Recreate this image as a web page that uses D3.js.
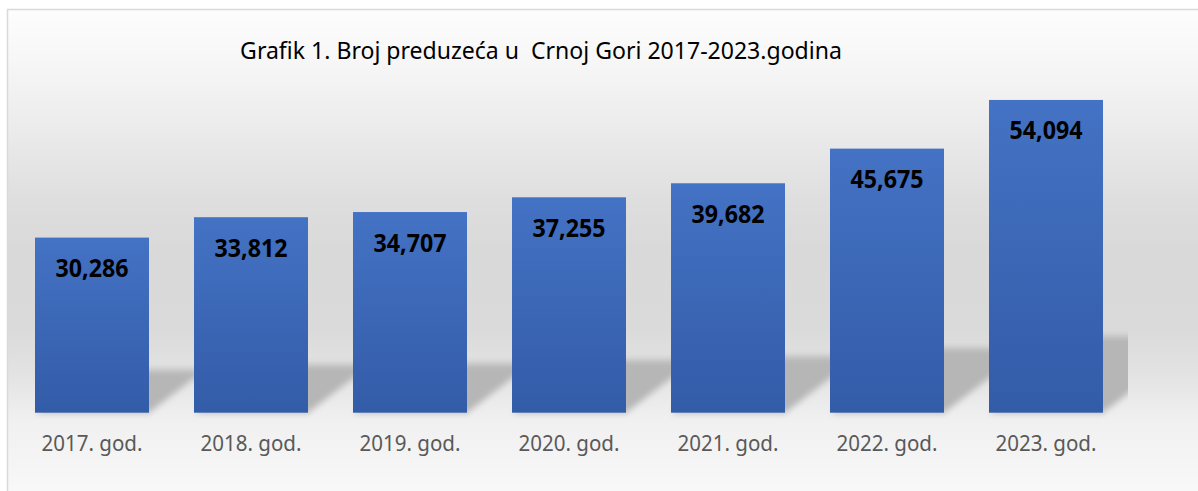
<!DOCTYPE html>
<html>
<head>
<meta charset="utf-8">
<script src="https://cdn.jsdelivr.net/npm/d3@7"></script>
<style>
  body { margin: 0; background: #fff; }
  svg { display: block; }
</style>
</head>
<body>
<svg id="chart"></svg>
<script>
const title = 'Grafik 1. Broj preduzeća u  Crnoj Gori 2017-2023.godina';
const years = ['2017. god.', '2018. god.', '2019. god.', '2020. god.', '2021. god.', '2022. god.', '2023. god.'];
const companies = [30286, 33812, 34707, 37255, 39682, 45675, 54094];
const yMax = 60000;

const W = 1198, H = 491;
const plot = {left: 12.5, right: 1125.5, top: 65.8, bottom: 412.7};

const svg = d3.select('#chart')
.attr('width', W)
.attr('height', H);

const defs = svg.append('defs');

// chart area background: white -> gray -> light
const bg = defs.append('linearGradient')
.attr('id', 'bg')
.attr('x1', 0).attr('y1', 0).attr('x2', 0).attr('y2', 1);
[[0, '#fdfdfd'], [0.1, '#f7f7f7'], [0.25, '#ebebeb'], [0.4, '#dedede'], [0.5, '#d9d9d9'],
 [0.66, '#dadada'], [0.76, '#e3e3e3'], [0.85, '#f0f0f0'], [1, '#f8f8f8']]
.forEach(s => bg.append('stop').attr('offset', s[0]).attr('stop-color', s[1]));

const barGrad = defs.append('linearGradient')
.attr('id', 'barGrad')
.attr('x1', 0).attr('y1', 0).attr('x2', 0).attr('y2', 1);
barGrad.append('stop').attr('offset', 0).attr('stop-color', '#4472c4');
barGrad.append('stop').attr('offset', 1).attr('stop-color', '#335ca8');

defs.append('filter')
.attr('id', 'blur')
.attr('x', '-20%').attr('y', '-30%').attr('width', '140%').attr('height', '160%')
.append('feGaussianBlur')
.attr('stdDeviation', '2.5 3.5');

defs.append('clipPath')
.attr('id', 'plotClip')
.append('rect')
.attr('x', 8).attr('y', 10)
.attr('width', 1128 - 8).attr('height', H - 10);

svg.append('rect')
.attr('x', 8)
.attr('y', 10)
.attr('width', W - 8)
.attr('height', H - 10)
.attr('fill', 'url(#bg)');

// border (cut off on the right and bottom in the reference)
svg.append('path')
.attr('d', `M7.5,${H} V9.5 H${W}`)
.attr('fill', 'none')
.attr('stroke', '#d9d9d9')
.attr('stroke-width', 1.5);

const x = d3.scaleBand()
.domain(years)
.range([plot.left, plot.right])
.paddingInner(0.283)
.paddingOuter(0.1415);

const y = d3.scaleLinear()
.domain([0, yMax])
.range([plot.bottom, plot.top]);

// perspective shadows behind bars
const k = 0.245, skew = 1.3;
svg.append('g')
.attr('clip-path', 'url(#plotClip)')
.selectAll('path')
.data(companies)
.enter()
.append('path')
.attr('d', (d, i) => {
  const x0 = x(years[i]), x1 = x0 + x.bandwidth();
  const s = k * (y(0) - y(d));
  const b = y(0);
  return `M${x0},${b} L${x1},${b} L${x1 + skew * s},${b - s} L${x0 + skew * s},${b - s} Z`;
})
.attr('fill', '#b6b6b6')
.attr('filter', 'url(#blur)');

svg.append('g')
.selectAll('rect')
.data(companies)
.enter()
.append('rect')
.attr('x', (d, i) => x(years[i]))
.attr('y', d => y(d))
.attr('width', x.bandwidth())
.attr('height', d => y(0) - y(d))
.attr('fill', 'url(#barGrad)');

// scale a text's font so it spans the given width
function fit(sel, target) {
  sel.each(function() {
    const size = parseFloat(this.getAttribute('font-size'));
    const w = this.getComputedTextLength();
    this.setAttribute('font-size', (size * target / w).toFixed(2));
  });
}

svg.append('g')
.selectAll('text')
.data(companies)
.enter()
.append('text')
.attr('x', (d, i) => x(years[i]) + x.bandwidth() / 2)
.attr('y', d => y(d) + 39.5)
.attr('text-anchor', 'middle')
.attr('font-family', '"Noto Sans", sans-serif')
.attr('font-weight', 'bold')
.attr('font-size', 25.5)
.attr('textLength', 73)
.attr('lengthAdjust', 'spacingAndGlyphs')
.attr('fill', '#000')
.text(d => d3.format(',')(d));

svg.append('g')
.selectAll('text')
.data(years)
.enter()
.append('text')
.attr('x', d => x(d) + x.bandwidth() / 2)
.attr('y', 450.7)
.attr('text-anchor', 'middle')
.attr('font-family', '"Noto Sans", sans-serif')
.attr('font-size', 21.5)
.attr('textLength', 101)
.attr('lengthAdjust', 'spacingAndGlyphs')
.attr('fill', '#595959')
.text(d => d);

svg.append('text')
.attr('x', 541)
.attr('y', 58.5)
.attr('text-anchor', 'middle')
.attr('font-family', '"Noto Sans", sans-serif')
.attr('font-size', 21)
.attr('fill', '#000')
.style('white-space', 'pre')
.text(title)
.call(fit, 602);
</script>
</body>
</html>
